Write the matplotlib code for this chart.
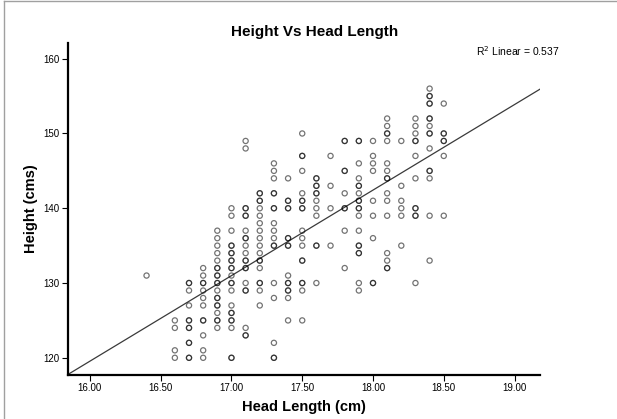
import numpy as np
import matplotlib
matplotlib.use("Agg")
import matplotlib.pyplot as plt
from matplotlib.lines import Line2D

plt.rcParams['font.family'] = ['Liberation Sans', 'DejaVu Sans']

# Head length (cm) -> list of heights (cm); repeated values = overlapping cases
head_16_4 = [131]
head_16_6 = [125, 124, 121, 120]
head_16_7 = [130, 130, 129, 127, 125, 125, 124, 124, 122, 122, 120, 120]
head_16_8 = [132, 131, 130, 130, 129, 128, 127, 125, 125, 123, 121, 120]
head_16_9 = [137, 136, 135, 134, 133, 132, 132, 131, 131, 130, 130, 129,
             128, 128, 127, 127, 126, 125, 125, 124]
head_17_0 = [140, 139, 137, 135, 135, 134, 134, 133, 133, 132, 132, 131,
             130, 130, 129, 127, 126, 126, 125, 125, 124, 120, 120]
head_17_1 = [149, 148, 140, 140, 139, 139, 137, 136, 136, 135, 134, 133,
             133, 132, 132, 130, 129, 129, 124, 123, 123]
head_17_2 = [142, 142, 141, 141, 140, 139, 138, 137, 136, 135, 134, 133,
             133, 132, 130, 130, 129, 127]
head_17_3 = [146, 145, 144, 142, 142, 140, 140, 138, 137, 136, 135, 135,
             130, 128, 122, 120, 120]
head_17_4 = [144, 141, 141, 140, 140, 136, 136, 135, 135, 131, 130, 130,
             129, 129, 128, 125]
head_17_5 = [150, 147, 147, 145, 142, 141, 141, 140, 140, 137, 136, 135,
             133, 133, 130, 130, 129, 125]
head_17_6 = [144, 144, 143, 143, 142, 142, 141, 140, 139, 135, 135, 130]
head_17_7 = [147, 143, 140, 135]
head_17_8 = [149, 149, 145, 145, 142, 140, 140, 137, 132]
head_17_9 = [149, 149, 146, 144, 143, 143, 142, 141, 141, 140, 140, 139,
             137, 135, 135, 134, 134, 130, 129]
head_18_0 = [149, 147, 146, 145, 141, 139, 136, 130, 130]
head_18_1 = [152, 151, 150, 150, 149, 146, 145, 144, 144, 142, 141, 139,
             134, 133, 132, 132]
head_18_2 = [149, 143, 141, 140, 139, 135]
head_18_3 = [152, 151, 150, 149, 149, 147, 144, 140, 140, 139, 139, 130]
head_18_4 = [156, 155, 155, 154, 154, 152, 152, 151, 150, 150, 148, 145,
             145, 144, 139, 133]
head_18_5 = [154, 150, 150, 149, 149, 147, 139]

head_lengths = [16.4, 16.6, 16.7, 16.8, 16.9, 17.0, 17.1, 17.2, 17.3, 17.4,
                17.5, 17.6, 17.7, 17.8, 17.9, 18.0, 18.1, 18.2, 18.3, 18.4, 18.5]
height_groups = [head_16_4, head_16_6, head_16_7, head_16_8, head_16_9,
                 head_17_0, head_17_1, head_17_2, head_17_3, head_17_4,
                 head_17_5, head_17_6, head_17_7, head_17_8, head_17_9,
                 head_18_0, head_18_1, head_18_2, head_18_3, head_18_4, head_18_5]

x_ticks = [16.0, 16.5, 17.0, 17.5, 18.0, 18.5, 19.0]
y_ticks = [120, 130, 140, 150, 160]
r2_text = "R$^2$ Linear = 0.537"

x = np.concatenate([[hl] * len(g) for hl, g in zip(head_lengths, height_groups)])
y = np.concatenate([g for g in height_groups]).astype(float)

fig = plt.figure(figsize=(6.17, 4.19), dpi=100)
ax = fig.add_axes([68 / 617, 1 - 375 / 419, (540 - 68) / 617, (375 - 43) / 419])

xlim = (15.845, 19.18)
ylim = (117.7, 162.1)
ax.set_xlim(*xlim)
ax.set_ylim(*ylim)

ax.scatter(x, y, s=14, facecolors='none', edgecolors=(0, 0, 0, 0.55),
           linewidths=0.9, zorder=3)

# least-squares fit line across the axes
slope, intercept = np.polyfit(x, y, 1)
xx = np.array(xlim)
ax.plot(xx, intercept + slope * xx, color='#3a3a3a', lw=0.9, zorder=2)

for s in ['top', 'right']:
    ax.spines[s].set_visible(False)
for s in ['left', 'bottom']:
    ax.spines[s].set_linewidth(1.6)
    ax.spines[s].set_color('black')

ax.set_xticks(x_ticks)
ax.set_xticklabels([f"{t:.2f}" for t in x_ticks])
ax.set_yticks(y_ticks)
ax.set_yticklabels([str(t) for t in y_ticks])
ax.tick_params(axis='both', direction='out', length=4, width=0.8,
               labelsize=7, colors='black', pad=2)

ax.set_xlabel("Head Length (cm)", fontsize=10.5, fontweight='bold', labelpad=5)
ax.set_ylabel("Height (cms)", fontsize=10.5, fontweight='bold', labelpad=4)
fig.text(315 / 617, 1 - 32 / 419, "Height Vs Head Length", fontsize=11,
         fontweight='bold', ha='center', va='center')
fig.text(476 / 617, 1 - 51 / 419, r2_text, fontsize=7.5, ha='left', va='center')

# frame of the output window (left and top border)
fig.add_artist(Line2D([0.006, 0.006], [0, 0.997], transform=fig.transFigure,
                      color='#a0a0a0', lw=1))
fig.add_artist(Line2D([0.006, 1], [0.997, 0.997], transform=fig.transFigure,
                      color='#a0a0a0', lw=1))

fig.savefig("out.png", dpi=100)
